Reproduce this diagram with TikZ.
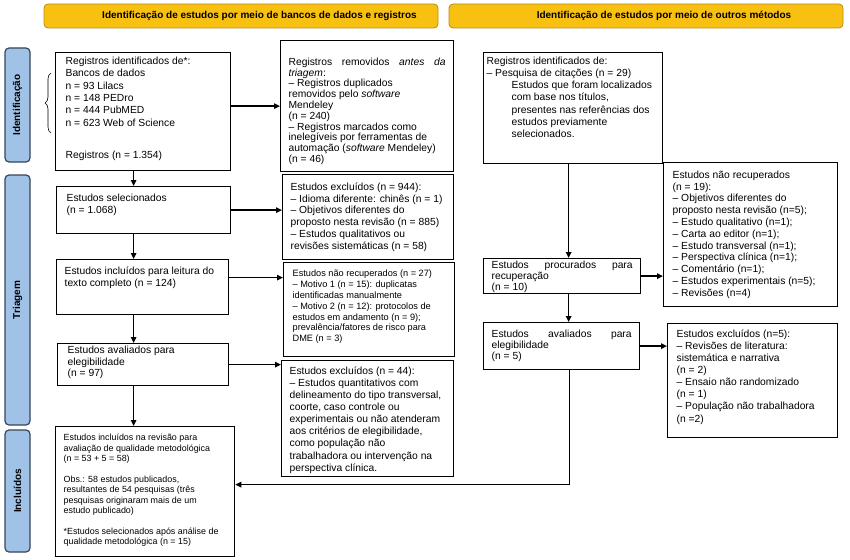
\documentclass[tikz,border=0pt]{standalone}
\usepackage{fontspec}
\setmainfont{Liberation Sans}
\usetikzlibrary{arrows.meta,decorations.pathreplacing,calc}
\definecolor{bannerfill}{RGB}{248,192,16}
\definecolor{bannerline}{RGB}{185,140,20}
\definecolor{sidefill}{RGB}{160,194,230}
\definecolor{sideline}{RGB}{55,70,90}
\newcommand{\bx}[5]{\hspace*{#3pt}\parbox[c][#2pt][t]{\dimexpr#1pt-#3pt-#3pt\relax}{\raggedright\rule{0pt}{#4pt}#5}\hspace*{#3pt}}
\newcommand{\fsz}[1]{\fontsize{10.3}{#1}\selectfont}
\newcommand{\fsm}[2]{\fontsize{#1}{#2}\selectfont}
\begin{document}
\begin{tikzpicture}[x=1pt,y=-1pt,
 box/.style={draw, line width=1.3pt, inner sep=0pt, anchor=north west},
 arr/.style={line width=1.4pt, -{Triangle[length=6pt,width=5.5pt]}},
 banner/.style={draw=bannerline, fill=bannerfill, line width=0.8pt, rounded corners=4pt, minimum width=394pt, minimum height=24pt, inner sep=0pt, font=\bfseries\fontsize{10}{12}\selectfont},
 side/.style={draw=sideline, fill=sidefill, line width=1.2pt, rounded corners=4pt, rotate=90, minimum height=25pt, inner sep=0pt, font=\bfseries\fontsize{10}{12}\selectfont}]
\useasboundingbox (0,0) rectangle (850,559);
\fill[white] (0,0) rectangle (850,559);

% banners
\node[banner] (ban1) at (241,16) {\hspace*{37pt}Identificação de estudos por meio de bancos de dados e registros};
\node[banner] (ban2) at (646,16) {\hspace*{36pt}Identificação de estudos por meio de outros métodos};

% side labels
\node[side, minimum width=114pt] (s1) at (17.5,105) {Identificação};
\node[side, minimum width=250pt] (s2) at (17.5,300) {Triagem};
\node[side, minimum width=122pt] (s3) at (17.5,491) {Incluídos};

% brace
\draw[line width=0.6pt, decorate, decoration={brace, amplitude=6pt}] (51,133) -- (51,73);

% left column
\node[box, font=\fsz{12.4}] (A) at (55,52) {\bx{175}{118}{10}{11.7}{Registros identificados de*:\\
Bancos de dados\\
n = 93 Lilacs\\
n = 148 PEDro\\
n = 444 PubMED\\
n = 623 Web of Science\\[20pt]
Registros (n = 1.354)}};

\node[box, font=\fsz{10.8}] (B) at (280,40) {\bx{173}{131}{8}{24.7}{Registros \hfill removidos \hfill \textit{antes} \hfill \textit{da}\\
\textit{triagem}:\\
– Registros duplicados\\
removidos pelo \textit{software}\\
Mendeley\\
(n = 240)\\
– Registros marcados como\\
inelegíveis por ferramentas de\\
automação (\textit{software} Mendeley)\\
(n = 46)}};

\node[box, font=\fsz{12}] (C) at (56,186) {\bx{174}{47}{10}{14.7}{Estudos selecionados\\
(n = 1.068)}};

\node[box, font=\fsz{11.8}] (D) at (282,174) {\bx{171}{85}{8}{15.7}{Estudos excluídos (n = 944):\\
– Idioma diferente: chinês (n = 1)\\
– Objetivos diferentes do\\
proposto nesta revisão (n = 885)\\
– Estudos qualitativos ou\\
revisões sistemáticas (n = 58)}};

\node[box, font=\fsz{12}] (E) at (56,259) {\bx{172}{55}{8}{14.7}{Estudos incluídos para leitura do\\
texto completo (n = 124)}};

\node[box, font=\fsm{9.2}{10.8}] (F) at (283,262) {\bx{171}{94}{9}{14.3}{Estudos não recuperados (n = 27)\\
– Motivo 1 (n = 15): duplicatas\\
identificadas manualmente\\
– Motivo 2 (n = 12): protocolos de\\
estudos em andamento (n = 9);\\
prevalência/fatores de risco para\\
DME (n = 3)}};

\node[box, font=\fsz{11.8}] (G) at (57,343) {\bx{171}{42}{10}{9.7}{Estudos avaliados para\\
elegibilidade\\
(n = 97)}};

\node[box, font=\fsz{12.1}] (H) at (281,360) {\bx{172}{116}{8}{13.7}{Estudos excluídos (n = 44):\\
– Estudos quantitativos com\\
delineamento do tipo transversal,\\
coorte, caso controle ou\\
experimentais ou não atenderam\\
aos critérios de elegibilidade,\\
como população não\\
trabalhadora ou intervenção na\\
perspectiva clínica.}};

\node[box, font=\fsm{8.9}{10.5}] (I) at (55,426) {\bx{179}{130}{8}{14.2}{Estudos incluídos na revisão para\\
avaliação de qualidade metodológica\\
(n = 53 + 5 = 58)\\[10pt]
Obs.: 58 estudos publicados,\\
resultantes de 54 pesquisas (três\\
pesquisas originaram mais de um\\
estudo publicado)\\[10pt]
*Estudos selecionados após análise de\\
qualidade metodológica (n = 15)}};

% right column
\node[box, font=\fsz{12.2}] (J) at (483,52) {\bx{179}{111}{3}{11.7}{Registros identificados de:\\
– Pesquisa de citações (n = 29)\\
\hspace*{25pt}Estudos que foram localizados\\
\hspace*{25pt}com base nos títulos,\\
\hspace*{25pt}presentes nas referências dos\\
\hspace*{25pt}estudos previamente\\
\hspace*{25pt}selecionados.}};

\node[box, font=\fsz{11.8}] (K) at (663,162) {\bx{174}{144}{9}{15.7}{Estudos não recuperados\\
(n = 19):\\
– Objetivos diferentes do\\
proposto nesta revisão (n=5);\\
– Estudo qualitativo (n=1);\\
– Carta ao editor (n=1);\\
– Estudo transversal (n=1);\\
– Perspectiva clínica (n=1);\\
– Comentário (n=1);\\
– Estudos experimentais (n=5);\\
– Revisões (n=4)}};

\node[box, font=\fsz{11}] (L) at (483,258) {\bx{157}{35}{8}{9.7}{Estudos \hfill procurados \hfill para\\
recuperação\\
(n = 10)}};

\node[box, font=\fsz{11}] (M) at (483,322) {\bx{156}{47}{8}{14.7}{Estudos \hfill avaliados \hfill para\\
elegibilidade\\
(n = 5)}};

\node[box, font=\fsz{12.1}] (N) at (667,323) {\bx{170}{114}{9}{13.7}{Estudos excluídos (n=5):\\
– Revisões de literatura:\\
sistemática e narrativa\\
(n = 2)\\
– Ensaio não randomizado\\
(n = 1)\\
– População não trabalhadora\\
(n =2)}};

% connectors left
\draw[arr] (A.east |- B.west) -- (B.west);
\draw[arr] (C.east) -- (C.east -| D.west);
\draw[arr] ([yshift=9.5pt]E.east) -- ([yshift=9.5pt]E.east -| F.west);
\draw[arr] (G.east) -- (G.east -| H.west);
\draw[arr] ([xshift=-9.5pt]A.south) -- ([xshift=-9.5pt]A.south |- C.north);
\draw[arr] ([xshift=-10pt]C.south) -- ([xshift=-10pt]C.south |- E.north);
\draw[arr] ([xshift=-9pt]E.south) -- ([xshift=-9pt]E.south |- G.north);
\draw[arr] ([xshift=-9.5pt]G.south) -- ([xshift=-9.5pt]G.south |- I.north);

% connectors right
\draw[arr] ([xshift=-4.5pt]J.south) -- ([xshift=-4.5pt]J.south |- L.north);
\draw[arr] (L.east) -- (L.east -| K.west);
\draw[arr] ([xshift=6.5pt]L.south) -- ([xshift=6.5pt]L.south |- M.north);
\draw[arr] (M.east) -- (M.east -| N.west);
\draw[arr] ([xshift=8pt]M.south) |- ([yshift=7pt]I.east);
\end{tikzpicture}
\end{document}
